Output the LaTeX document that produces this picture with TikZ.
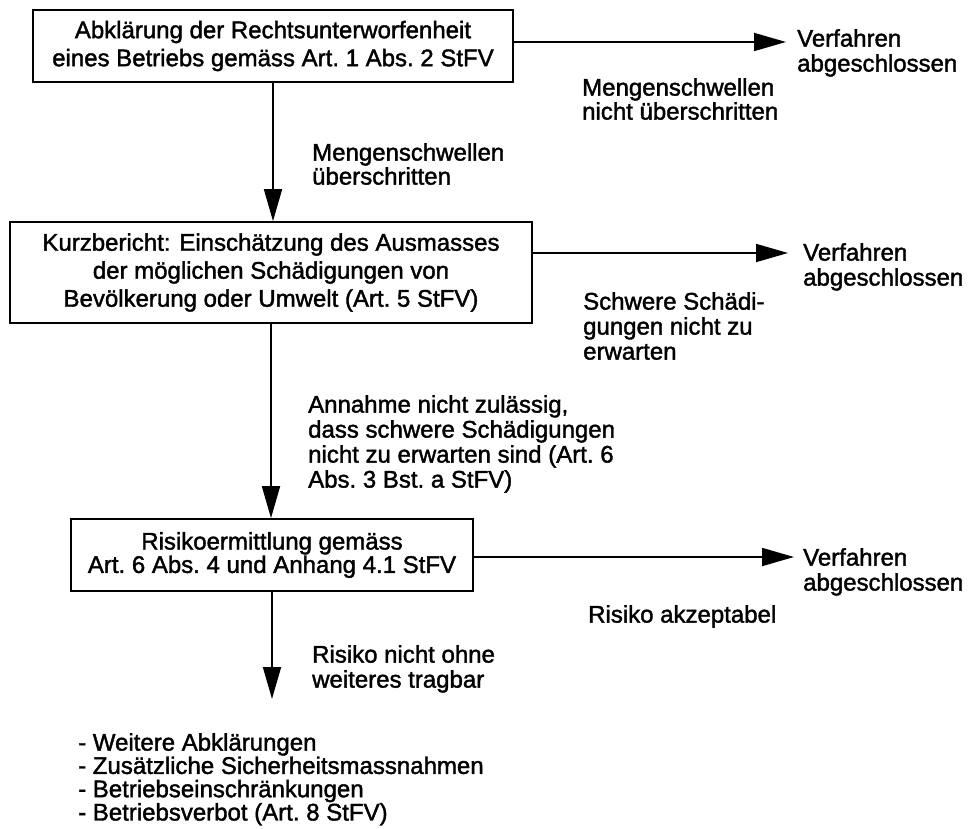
\documentclass[tikz,border=0pt]{standalone}
\usepackage{fontspec}
\setmainfont{Liberation Sans}[FakeBold=1.6]
\usetikzlibrary{arrows.meta}
\begin{document}
\begin{tikzpicture}[x=1pt,y=-1pt,
  box/.style={draw, line width=1.7pt, align=center, inner sep=0pt},
  lbl/.style={anchor=north west, align=left, inner sep=0pt},
  flow/.style={line width=1.8pt, -{Triangle[length=32pt,width=18pt]}}]
\useasboundingbox (0,0) rectangle (972,829);

% process boxes
\node[box, minimum width=480pt, minimum height=72pt,
      font=\fontsize{24}{28}\selectfont] (b1) at (273,46)
  {Abklärung der Rechtsunterworfenheit\\eines Betriebs gemäss Art.~1 Abs.~2 StFV};
\node[box, minimum width=522pt, minimum height=101pt,
      font=\fontsize{24}{28}\selectfont] (b2) at (271,272.5)
  {Kurzbericht: Einschätzung des Ausmasses\\der möglichen Schädigungen von\\Bevölkerung oder Umwelt (Art.~5 StFV)};
\node[box, minimum width=402pt, minimum height=72pt,
      font=\fontsize{24}{22}\selectfont] (b3) at (272,555)
  {Risikoermittlung gemäss\\Art.~6 Abs.~4 und Anhang 4.1 StFV};

% outcome texts on the right
\node[lbl, font=\fontsize{24}{25}\selectfont] (v1) at (797,29) {Verfahren\\abgeschlossen};
\node[lbl, font=\fontsize{24}{25}\selectfont] (v2) at (803,243) {Verfahren\\abgeschlossen};
\node[lbl, font=\fontsize{24}{25}\selectfont] (v3) at (803,548) {Verfahren\\abgeschlossen};

% tips of the arrows
\coordinate (t1) at (786,42);
\coordinate (t2) at (788,253);
\coordinate (t3) at (794,557);
\coordinate (t4) at (272,699);

% connectors
\draw[flow] (b1.east |- t1) -- (t1);
\draw[flow] (b2.east |- t2) -- (t2);
\draw[flow] (b3.east |- t3) -- (t3);
\draw[flow] (b1.south) -- (b1.south |- b2.north);
\draw[flow] (b2.south) -- (b2.south |- b3.north);
\draw[flow] (b3.south) -- (t4);

% connector labels
\node[lbl, font=\fontsize{24}{24}\selectfont] (n1) at (582,78) {Mengenschwellen\\nicht überschritten};
\node[lbl, font=\fontsize{24}{24}\selectfont] (y1) at (312,143) {Mengenschwellen\\überschritten};
\node[lbl, font=\fontsize{24}{25}\selectfont] (n2) at (583,292) {Schwere Schädi-\\gungen nicht zu\\erwarten};
\node[lbl, font=\fontsize{24}{25}\selectfont] (y2) at (308,395)
  {Annahme nicht zulässig,\\dass schwere Schädigungen\\nicht zu erwarten sind (Art.~6\\Abs.~3 Bst.~a StFV)};
\node[lbl, font=\fontsize{24}{25}\selectfont] (n3) at (588,605) {Risiko akzeptabel};
\node[lbl, font=\fontsize{24}{25}\selectfont] (y3) at (312,645) {Risiko nicht ohne\\weiteres tragbar};

% measures
\node[lbl, font=\fontsize{24}{23.3}\selectfont] (m) at (78,733)
  {- Weitere Abklärungen\\- Zusätzliche Sicherheitsmassnahmen\\- Betriebseinschränkungen\\- Betriebsverbot (Art.~8 StFV)};
\end{tikzpicture}
\end{document}
